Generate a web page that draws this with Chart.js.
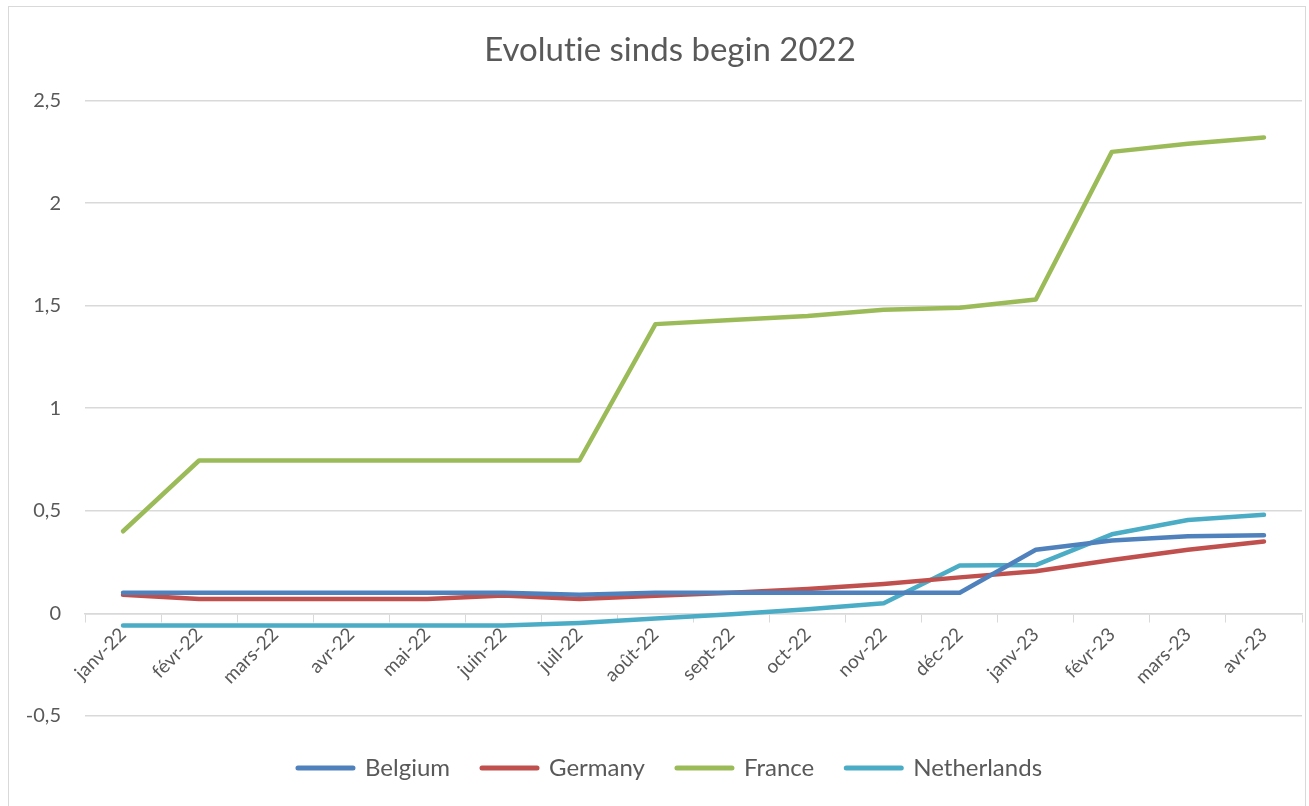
<!DOCTYPE html>
<html>
<head>
<meta charset="utf-8">
<script src="https://cdn.jsdelivr.net/npm/chart.js@4"></script>
<style>
  html, body { margin: 0; padding: 0; background: #fff; }
  #kader { position: absolute; left: 8px; top: 6px; width: 1296px; height: 820px; border: 1px solid #d9d9d9; }
  #wrap { position: absolute; left: 0; top: 0; width: 1309px; height: 806px; }
</style>
</head>
<body>
<div id="kader"></div>
<div id="wrap"><canvas id="grafiek" width="1309" height="806"></canvas></div>
<script>
var maanden = ["janv-22", "févr-22", "mars-22", "avr-22", "mai-22", "juin-22", "juil-22", "août-22",
  "sept-22", "oct-22", "nov-22", "déc-22", "janv-23", "févr-23", "mars-23", "avr-23"];

var belgium = [0.10, 0.10, 0.10, 0.10, 0.10, 0.10, 0.09, 0.10, 0.10, 0.10, 0.10, 0.10, 0.31, 0.355, 0.375, 0.38];
var germany = [0.09, 0.07, 0.07, 0.07, 0.07, 0.087, 0.07, 0.085, 0.10, 0.118, 0.143, 0.175, 0.205, 0.26, 0.31, 0.35];
var france = [0.40, 0.745, 0.745, 0.745, 0.745, 0.745, 0.745, 1.41, 1.43, 1.45, 1.48, 1.49, 1.53, 2.25, 2.29, 2.32];
var netherlands = [-0.06, -0.06, -0.06, -0.06, -0.06, -0.06, -0.047, -0.026, -0.005, 0.02, 0.049, 0.233, 0.235, 0.385, 0.455, 0.48];

var yTicks = [-0.5, 0, 0.5, 1, 1.5, 2, 2.5];

var grijs = "#595959";
var lijnGrijs = "#d9d9d9";
var lettertype = "Lato";

function lijn(label, data, kleur) {
  return {
    label: label,
    data: data,
    borderColor: kleur,
    backgroundColor: kleur,
    borderWidth: 4.5,
    borderCapStyle: "round",
    borderJoinStyle: "round",
    pointRadius: 0,
    tension: 0,
  };
}

// titel en legenda iets naar rechts, meer boven het plotvlak
const schuifRechts = {
  id: "schuifRechts",
  afterLayout: function (chart) {
    [chart.titleBlock, chart.legend].forEach(function (blok) {
      if (blok) blok.left += 30;
    });
  },
};

const grafiek = new Chart(document.getElementById("grafiek"), {
  type: "line",
  data: {
    labels: maanden,
    datasets: [
      lijn("Belgium", belgium, "#4f81bd"),
      lijn("Germany", germany, "#c0504d"),
      lijn("France", france, "#9bbb59"),
      lijn("Netherlands", netherlands, "#4bacc6"),
    ],
  },
  plugins: [schuifRechts],
  options: {
    responsive: false,
    animation: false,
    layout: { padding: { left: 8, right: 7, top: 0, bottom: 16 } },
    plugins: {
      title: {
        display: true,
        // \u200c houdt de t en i los van elkaar (geen ligatuur)
        text: "Evolut\u200cie sinds begin 2022",
        color: grijs,
        font: { family: lettertype, size: 33, weight: "normal" },
        padding: { top: 31, bottom: 30 },
      },
      legend: {
        position: "bottom",
        title: { display: true, text: "", font: { size: 1 }, padding: { top: 7, bottom: 0 } },
        labels: {
          color: grijs,
          font: { family: lettertype, size: 24 },
          usePointStyle: true,
          pointStyle: "line",
          pointStyleWidth: 55,
          padding: 32,
          generateLabels: function (chart) {
            return chart.data.datasets.map(function (ds, i) {
              return {
                text: ds.label,
                strokeStyle: ds.borderColor,
                fillStyle: ds.borderColor,
                lineWidth: 5,
                lineCap: "round",
                pointStyle: "line",
                datasetIndex: i,
                fontColor: grijs,
              };
            });
          },
        },
      },
      tooltip: { enabled: false },
    },
    scales: {
      x: {
        position: { y: 0 },
        offset: true,
        grid: {
          offset: true,
          drawOnChartArea: false,
          drawTicks: true,
          tickLength: 8,
          color: lijnGrijs,
        },
        border: { display: true, color: lijnGrijs, width: 1.5 },
        ticks: {
          color: grijs,
          font: { family: lettertype, size: 19 },
          minRotation: 45,
          maxRotation: 45,
          autoSkip: false,
          padding: 2,
        },
      },
      y: {
        min: -0.5,
        max: 2.5,
        afterFit: function (schaal) {
          schaal.width = 77;
        },
        afterBuildTicks: function (schaal) {
          schaal.ticks = yTicks.map(function (v) { return { value: v }; });
        },
        grid: { color: lijnGrijs, lineWidth: 1.5, drawTicks: false },
        border: { display: false },
        ticks: {
          color: grijs,
          font: { family: lettertype, size: 20 },
          padding: 24,
          callback: function (waarde) {
            return String(waarde).replace(".", ",");
          },
        },
      },
    },
  },
});
</script>
</body>
</html>
